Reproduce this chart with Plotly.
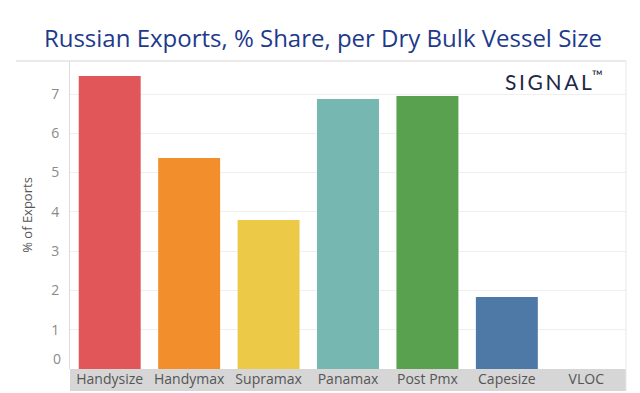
import plotly.graph_objects as go

categories = ["Handysize", "Handymax", "Supramax", "Panamax", "Post Pmx", "Capesize", "VLOC"]
share_pct = [7.46, 5.37, 3.79, 6.87, 6.95, 1.83, 0.0]
bar_colors = ["#E15759", "#F28E2B", "#EDC948", "#76B7B2", "#59A14F", "#4E79A7", "#9C755F"]
y_tick_vals = [1, 2, 3, 4, 5, 6, 7]
y_tick_text = ["1", "2", "3", "4", "5", "6", "7"]

fig = go.Figure()
fig.add_trace(go.Bar(x=categories, y=share_pct, marker=dict(color=bar_colors, line=dict(width=0)),
                     hoverinfo="x+y"))

L, R, T, B = 62, 22, 53, 32
H = 393 - T - B
band = 22 / H

fig.update_layout(
    width=640, height=393,
    margin=dict(l=L, r=R, t=T, b=B),
    paper_bgcolor="white", plot_bgcolor="white",
    bargap=0.22,
    showlegend=False,
    title=dict(text="Russian Exports, % Share, per Dry Bulk Vessel Size",
               x=315 / 640, xanchor="center", y=1 - 31 / 393, yanchor="middle",
               font=dict(family="Open Sans", size=24, color="#1E3A8A")),
    xaxis=dict(showgrid=False, showline=False, zeroline=False, ticks="",
               tickfont=dict(family="Open Sans", size=14, color="#555555"),
               fixedrange=True),
    yaxis=dict(range=[0, 7.84], tickvals=y_tick_vals, ticktext=y_tick_text,
               showgrid=True, gridcolor="#EFEFEF", gridwidth=1,
               zeroline=False, showline=True, linecolor="#DDDDDD", linewidth=1,
               ticks="", ticklabelstandoff=7,
               tickfont=dict(family="Open Sans", size=14, color="#8A8A8A"),
               title=dict(text="% of Exports", standoff=15,
                          font=dict(family="Open Sans", size=13, color="#555555"))),
)

# grey category label band
fig.add_shape(type="rect", xref="paper", yref="paper", x0=0, x1=1, y0=-band, y1=0,
              fillcolor="#D6D6D6", line=dict(width=0), layer="below")
# top border line and right border
fig.add_shape(type="line", xref="paper", yref="paper", x0=-54 / (640 - L - R), x1=1, y0=1, y1=1,
              line=dict(color="#E3E3E3", width=1.5))
fig.add_shape(type="line", xref="paper", yref="paper", x0=1, x1=1, y0=-band, y1=1,
              line=dict(color="#E8E8E8", width=1))

# zero tick label placed just above the baseline
fig.add_annotation(x=0, xref="paper", y=0, yref="y", xanchor="right", yanchor="middle",
                   xshift=-7, yshift=11, text="0", showarrow=False,
                   font=dict(family="Open Sans", size=14, color="#8A8A8A"))

# logo
fig.add_annotation(x=(597 - L) / (640 - L - R), xref="paper", y=1, yref="paper",
                   xanchor="right", yanchor="top",
                   yshift=-3, text="S\u2009I\u2009G\u2009N\u2009A\u2009L<sup>\u2122</sup>",
                   showarrow=False,
                   font=dict(family="Lato", size=21, color="#1B2845"))

fig.write_html("out.html")
